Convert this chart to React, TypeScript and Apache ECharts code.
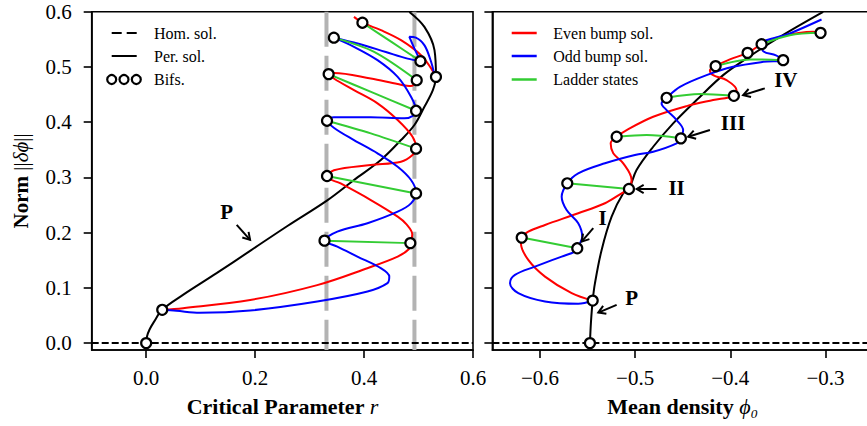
import React, { useEffect, useRef } from 'react';
import * as echarts from 'echarts';

type P = [number, number];

// ---------- Axis ticks ----------
const normTicks = [0, 0.1, 0.2, 0.3, 0.4, 0.5, 0.6];
const rTicks = [0, 0.2, 0.4, 0.6];
const phiTicks = [-0.6, -0.5, -0.4, -0.3];

// ---------- Left panel: norm vs critical parameter r ----------
const leftPeriodic: P[] = [
  [0, 0], [0.0015, 0.012], [0.006, 0.0241], [0.014, 0.038], [0.0295, 0.0603], [0.0676, 0.0873],
  [0.1293, 0.1266], [0.1908, 0.167], [0.26, 0.2125], [0.3324, 0.2585], [0.3815, 0.2953],
  [0.4308, 0.3315], [0.4678, 0.3676], [0.4924, 0.3948], [0.5108, 0.4279], [0.5263, 0.458],
  [0.532, 0.482], [0.5293, 0.5304], [0.5108, 0.5725], [0.4832, 0.5996],
];
const leftEven: P[] = [
  [0.0295, 0.0603], [0.0676, 0.0633], [0.191, 0.078], [0.314, 0.105], [0.406, 0.1356],
  [0.4617, 0.1566], [0.482, 0.17], [0.486, 0.181], [0.4885, 0.197], [0.478, 0.215], [0.4617, 0.229],
  [0.4124, 0.259], [0.357, 0.289], [0.332, 0.301], [0.3446, 0.313], [0.412, 0.3224],
  [0.4678, 0.3284], [0.489, 0.3405], [0.4955, 0.3526], [0.489, 0.3736], [0.4617, 0.4038],
  [0.4247, 0.434], [0.3815, 0.458], [0.3446, 0.479], [0.335, 0.488], [0.3446, 0.489],
  [0.4124, 0.479], [0.4617, 0.469], [0.486, 0.4653], [0.4967, 0.476],
];
const leftEvenTop: P[] = [
  [0.3815, 0.5906], [0.397, 0.58], [0.431, 0.5665], [0.4678, 0.5485], [0.5047, 0.5213],
  [0.5232, 0.4973], [0.532, 0.482],
];
const leftOdd: P[] = [
  [0.0295, 0.0603], [0.0554, 0.0585], [0.0984, 0.0548], [0.1908, 0.059], [0.314, 0.0753],
  [0.4063, 0.0934], [0.443, 0.1085], [0.4463, 0.1205], [0.4308, 0.1356], [0.3878, 0.1566],
  [0.3509, 0.1747], [0.3274, 0.1855], [0.3509, 0.2018], [0.4063, 0.217], [0.4617, 0.238],
  [0.4862, 0.253], [0.4955, 0.2723], [0.4862, 0.2953], [0.4617, 0.3193], [0.4247, 0.3436],
  [0.3815, 0.3676], [0.3445, 0.39], [0.3332, 0.4026], [0.3446, 0.4087], [0.4124, 0.4087],
  [0.474, 0.4069], [0.4924, 0.4128], [0.4955, 0.4206], [0.4862, 0.446], [0.4617, 0.482],
  [0.4247, 0.5123], [0.3815, 0.5364], [0.3446, 0.553], [0.39, 0.542], [0.44, 0.527],
  [0.48, 0.515], [0.5035, 0.5105], [0.4924, 0.5335], [0.4832, 0.5545], [0.495, 0.553],
  [0.511, 0.539], [0.5232, 0.509], [0.528, 0.491],
];
const leftLadders: P[][] = [
  [[0.3274, 0.1855], [0.485, 0.181]],
  [[0.332, 0.3025], [0.4955, 0.271]],
  [[0.332, 0.4026], [0.4124, 0.3797], [0.4955, 0.352]],
  [[0.335, 0.487], [0.415, 0.4538], [0.4955, 0.4206]],
  [[0.3446, 0.553], [0.4185, 0.5273], [0.4967, 0.476]],
  [[0.397, 0.58], [0.4503, 0.5453], [0.5035, 0.5105]],
];
const leftBifs: P[] = [
  [0, 0], [0.0295, 0.0603], [0.397, 0.58], [0.3446, 0.553], [0.5035, 0.5105], [0.532, 0.482],
  [0.335, 0.487], [0.4967, 0.476], [0.4955, 0.4206], [0.332, 0.4026], [0.4955, 0.352],
  [0.332, 0.3025], [0.4955, 0.271], [0.3274, 0.1855], [0.485, 0.181],
];
const snakeLimits = [0.331, 0.4925];

// ---------- Right panel: norm vs mean density phi0 ----------
const rightPeriodic: P[] = [
  [-0.5475, 0], [-0.5464, 0.0385], [-0.5446, 0.077], [-0.5422, 0.1085], [-0.5352, 0.1687],
  [-0.5247, 0.2289], [-0.5125, 0.2712], [-0.5065, 0.279], [-0.4985, 0.3134], [-0.481, 0.3555],
  [-0.46, 0.3978], [-0.4354, 0.44], [-0.4075, 0.4852], [-0.3829, 0.5154], [-0.3479, 0.5544],
  [-0.3024, 0.5997],
];
const rightEven: P[] = [
  [-0.5446, 0.077], [-0.5667, 0.0904], [-0.5947, 0.1204], [-0.6123, 0.1506], [-0.62, 0.1808],
  [-0.6192, 0.191], [-0.6123, 0.2018], [-0.5947, 0.2139], [-0.5598, 0.2351], [-0.5317, 0.2532],
  [-0.5142, 0.2712], [-0.5065, 0.279], [-0.5037, 0.2953], [-0.5125, 0.3255], [-0.523, 0.3436],
  [-0.5257, 0.3617], [-0.5194, 0.3736], [-0.5089, 0.3857], [-0.481, 0.4098], [-0.4459, 0.4291],
  [-0.418, 0.44], [-0.3962, 0.4477], [-0.3934, 0.458], [-0.4039, 0.4761], [-0.418, 0.4851],
  [-0.4214, 0.4942], [-0.4154, 0.5015], [-0.4004, 0.5136], [-0.3818, 0.5255], [-0.3671, 0.5412],
  [-0.3479, 0.5544], [-0.3129, 0.5635], [-0.3051, 0.5617],
];
const rightOdd: P[] = [
  [-0.5446, 0.077], [-0.5598, 0.0711], [-0.5947, 0.0752], [-0.6228, 0.0904], [-0.6315, 0.1085],
  [-0.6263, 0.1235], [-0.6053, 0.1385], [-0.5772, 0.1566], [-0.5632, 0.1657], [-0.5608, 0.1717],
  [-0.5556, 0.1928], [-0.5598, 0.217], [-0.572, 0.241], [-0.5772, 0.2651], [-0.5713, 0.2893],
  [-0.5598, 0.3074], [-0.5317, 0.3255], [-0.5002, 0.3405], [-0.481, 0.3465], [-0.4564, 0.3617],
  [-0.4519, 0.3707], [-0.4495, 0.3857], [-0.4564, 0.4038], [-0.4669, 0.4219], [-0.4722, 0.434],
  [-0.4669, 0.4441], [-0.4529, 0.464], [-0.4249, 0.4852], [-0.397, 0.5002], [-0.3654, 0.5092],
  [-0.3444, 0.5123], [-0.352, 0.521], [-0.365, 0.528], [-0.3671, 0.5412], [-0.3374, 0.5606],
  [-0.3041, 0.5859],
];
const rightLadders: P[][] = [
  [[-0.6192, 0.191], [-0.5608, 0.1717]],
  [[-0.5713, 0.2893], [-0.5065, 0.279]],
  [[-0.5194, 0.3736], [-0.4879, 0.3767], [-0.4519, 0.3707]],
  [[-0.4669, 0.4441], [-0.432, 0.4508], [-0.3962, 0.4477]],
  [[-0.4154, 0.5015], [-0.3794, 0.5136], [-0.3444, 0.5123]],
  [[-0.3671, 0.5412], [-0.3374, 0.5575], [-0.3051, 0.5617]],
];
const rightBifs: P[] = [
  [-0.5475, 0], [-0.5446, 0.077], [-0.6192, 0.191], [-0.5608, 0.1717], [-0.5713, 0.2893],
  [-0.5065, 0.279], [-0.5194, 0.3736], [-0.4519, 0.3707], [-0.4669, 0.4441], [-0.3962, 0.4477],
  [-0.4154, 0.5015], [-0.3444, 0.5123], [-0.3818, 0.5255], [-0.3671, 0.5412], [-0.3051, 0.5617],
];

// ---------- Annotations (data coordinates) ----------
const annotations = [
  { grid: 0, text: 'P', at: [0.1477, 0.238], from: [0.1662, 0.2139], to: [0.1908, 0.1868] },
  { grid: 1, text: 'I', at: [-0.5341, 0.226], from: [-0.544, 0.208], to: [-0.5562, 0.1837] },
  { grid: 1, text: 'II', at: [-0.4564, 0.2803], from: [-0.4774, 0.279], to: [-0.4984, 0.279] },
  { grid: 1, text: 'III', at: [-0.397, 0.3978], from: [-0.4214, 0.3857], to: [-0.4442, 0.3736] },
  { grid: 1, text: 'IV', at: [-0.3416, 0.476], from: [-0.3637, 0.4611], to: [-0.3865, 0.449] },
  { grid: 1, text: 'P', at: [-0.5037, 0.0814], from: [-0.5194, 0.0693], to: [-0.5387, 0.0553] },
];

const FAM = 'Liberation Serif';
const FONT = 'Liberation Serif, serif';
const RED = '#ff0000';
const BLUE = '#0000ff';
const GREEN = '#33cc33';
const GRAY = '#b3b3b3';

const fmt = (v: number) => v.toFixed(1).replace('-', '\u2212');

function curve(data: P[], color: string, idx: number, width = 2, smooth: number | boolean = 0.35) {
  return {
    type: 'line', xAxisIndex: idx, yAxisIndex: idx, data, symbol: 'none', showSymbol: false,
    smooth, silent: true, lineStyle: { color, width }, emphasis: { disabled: true },
  };
}

export default function App() {
  const ref = useRef<HTMLDivElement>(null);
  useEffect(() => {
    const chart = echarts.init(ref.current!, null, { renderer: 'svg' });
    const yMin = -0.0125;
    const axisCommon = {
      type: 'value',
      splitLine: { show: false },
      axisLine: { show: true, onZero: false, lineStyle: { color: '#000', width: 1.6 } },
    };
    const tickLabel = (show: boolean, ticks: number[], margin: number) => ({
      show, customValues: ticks, formatter: fmt, margin,
      color: '#000', fontSize: 21, fontFamily: FAM,
    });
    const xAx = (grid: number, min: number, max: number, ticks: number[], name: string) => ({
      ...axisCommon, gridIndex: grid, min, max,
      axisTick: { show: true, inside: false, length: 8, customValues: ticks, lineStyle: { color: '#000', width: 1.6 } },
      axisLabel: tickLabel(true, ticks, 17),
      name, nameLocation: 'middle', nameGap: 45,
      nameTextStyle: {
        fontFamily: FAM, color: '#000', fontSize: 22,
        rich: {
          b: { fontFamily: FAM, fontSize: 22, fontWeight: 'bold', color: '#000' },
          i: { fontFamily: FAM, fontSize: 22, fontStyle: 'italic', color: '#000' },
        },
      },
    });
    const yAx = (grid: number, labels: boolean) => ({
      ...axisCommon, gridIndex: grid, min: yMin, max: 0.6,
      axisTick: { show: true, inside: false, length: 8, customValues: normTicks, lineStyle: { color: '#000', width: 1.6 } },
      axisLabel: tickLabel(labels, normTicks, 20),
      name: labels ? '{b|Norm} {m|||}{i|\u03b4\u03d5}{m|||}' : '',
      nameLocation: 'middle', nameGap: 60,
      nameTextStyle: {
        fontFamily: FAM, fontSize: 21,
        rich: {
          b: { fontFamily: FAM, fontSize: 21, fontWeight: 'bold', color: '#000' },
          m: { fontFamily: FAM, fontSize: 21, color: '#000' },
          i: { fontFamily: FAM, fontSize: 21, fontStyle: 'italic', color: '#000' },
        },
      },
    });

    const series: any[] = [];
    snakeLimits.forEach((r) => {
      series.push({ ...curve([[r, 0.6], [r, yMin]], GRAY, 0, 4, false), lineStyle: { color: GRAY, width: 4, type: [35, 9] } });
    });
    series.push({ ...curve([[-0.1, 0], [0.6, 0]], '#000', 0, 2, false), lineStyle: { color: '#000', width: 2, type: [7, 3] } });
    series.push({ ...curve([[-0.65, 0], [-0.25, 0]], '#000', 1, 2, false), lineStyle: { color: '#000', width: 2, type: [7, 3] } });
    series.push(curve(leftPeriodic, '#000', 0));
    series.push(curve(rightPeriodic, '#000', 1));
    series.push(curve(leftEven, RED, 0));
    series.push(curve(leftEvenTop, RED, 0));
    series.push(curve(leftOdd, BLUE, 0));
    series.push(curve(rightEven, RED, 1));
    series.push(curve(rightOdd, BLUE, 1));
    leftLadders.forEach((l) => series.push(curve(l, GREEN, 0, 2, 0.3)));
    rightLadders.forEach((l) => series.push(curve(l, GREEN, 1, 2, 0.3)));
    [leftBifs, rightBifs].forEach((b, i) => series.push({
      type: 'scatter', xAxisIndex: i, yAxisIndex: i, data: b, symbol: 'circle', symbolSize: 10, silent: true,
      itemStyle: { color: '#fff', borderColor: '#000', borderWidth: 2.2, opacity: 1 }, z: 10,
    }));

    const option: any = {
      animation: false,
      backgroundColor: '#fff',
      textStyle: { fontFamily: FAM },
      grid: [
        { left: 91.7, right: 394, top: 11.7, bottom: 76, show: true, borderColor: '#000', borderWidth: 1.6, backgroundColor: 'transparent', containLabel: false, outerBoundsMode: 'none' },
        { left: 492.4, right: -6, top: 11.7, bottom: 76, show: true, borderColor: '#000', borderWidth: 1.6, backgroundColor: 'transparent', containLabel: false, outerBoundsMode: 'none' },
      ],
      xAxis: [
        xAx(0, -0.1, 0.6, rTicks, '{b|Critical Parameter }{i|r}'),
        xAx(1, -0.65, -0.25, phiTicks, '{b|Mean density }{i|\u03d5\u2080}'),
      ],
      yAxis: [yAx(0, true), yAx(1, false)],
      series,
    };
    chart.setOption(option);

    const g: any[] = [];
    const legendFont = `16px ${FONT}`;
    const rows = [33, 56, 79.5];
    g.push({ type: 'line', shape: { x1: 111.7, y1: rows[0], x2: 136.7, y2: rows[0] }, style: { stroke: '#000', lineWidth: 2, lineDash: [10, 5] }, z: 20 });
    g.push({ type: 'line', shape: { x1: 111.7, y1: rows[1], x2: 136.7, y2: rows[1] }, style: { stroke: '#000', lineWidth: 2 }, z: 20 });
    [111.7, 124, 136.3].forEach((cx) => g.push({ type: 'circle', shape: { cx, cy: rows[2], r: 4.5 }, style: { fill: '#fff', stroke: '#000', lineWidth: 2.2 }, z: 20 }));
    ['Hom. sol.', 'Per. sol.', 'Bifs.'].forEach((t, i) => g.push({ type: 'text', x: 154, y: rows[i], style: { text: t, font: legendFont, fill: '#000', verticalAlign: 'middle' }, z: 20 }));
    [RED, BLUE, GREEN].forEach((c, i) => g.push({ type: 'line', shape: { x1: 511.7, y1: rows[i], x2: 536.7, y2: rows[i] }, style: { stroke: c, lineWidth: 2.5 }, z: 20 }));
    ['Even bump sol.', 'Odd bump sol.', 'Ladder states'].forEach((t, i) => g.push({ type: 'text', x: 553.3, y: rows[i], style: { text: t, font: legendFont, fill: '#000', verticalAlign: 'middle' }, z: 20 }));

    annotations.forEach((a) => {
      const finder = { xAxisIndex: a.grid, yAxisIndex: a.grid };
      const t = chart.convertToPixel(finder as any, a.at) as number[];
      const s = chart.convertToPixel(finder as any, a.from) as number[];
      const e = chart.convertToPixel(finder as any, a.to) as number[];
      const dx = e[0] - s[0], dy = e[1] - s[1];
      const len = Math.hypot(dx, dy) || 1;
      const ux = dx / len, uy = dy / len, nx = -uy, ny = ux;
      const L = 7, W = 4.2;
      g.push({ type: 'line', shape: { x1: s[0], y1: s[1], x2: e[0], y2: e[1] }, style: { stroke: '#000', lineWidth: 2 }, z: 20 });
      g.push({ type: 'polyline', shape: { points: [[e[0] - L * ux + W * nx, e[1] - L * uy + W * ny], [e[0], e[1]], [e[0] - L * ux - W * nx, e[1] - L * uy - W * ny]] }, style: { stroke: '#000', lineWidth: 2, fill: 'none' }, z: 20 });
      g.push({ type: 'text', x: t[0], y: t[1], style: { text: a.text, font: `bold 21px ${FONT}`, fill: '#000', align: 'center', verticalAlign: 'middle' }, z: 20 });
    });
    chart.setOption({ graphic: g });

    return () => chart.dispose();
  }, []);
  return <div ref={ref} style={{ position: 'fixed', left: 0, top: 0, width: 867, height: 426, background: '#fff' }} />;
}
